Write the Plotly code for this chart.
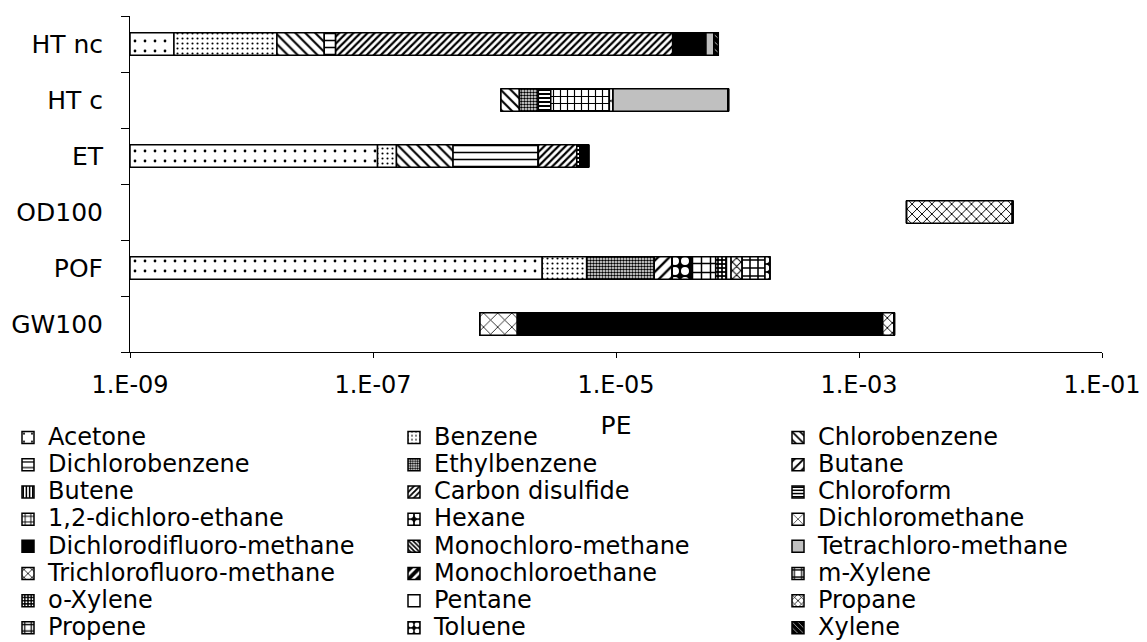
import plotly.graph_objects as go

# ---------------- data ----------------
categories = ["HT nc", "HT c", "ET", "OD100", "POF", "GW100"]
# invisible leading part of each floating stack (0 = stack starts at the axis minimum)
offset = [0, 1.13e-6, 0, 2.47e-3, 0, 7.6e-7]

acetone = [2.3e-9, 0, 1.09e-7, 0, 2.47e-6, 0]
benzene = [1.39e-8, 0, 4.7e-8, 0, 3.27e-6, 0]
chlorobenzene = [2.35e-8, 4.75e-7, 3.0e-7, 0, 0, 0]
dichlorobenzene = [9.6e-9, 0, 1.84e-6, 0, 0, 0]
ethylbenzene = [0, 6.9e-7, 0, 0, 1.49e-5, 0]
butane = [0, 0, 0, 0, 8.4e-6, 0]
butene = [0, 0, 0, 0, 0, 0]
carbon_disulfide = [2.925e-5, 0, 2.46e-6, 0, 0, 0]
chloroform = [0, 6.1e-7, 3.1e-7, 0, 0, 0]
dichloroethane_12 = [0, 5.91e-6, 0, 0, 0, 0]
hexane = [0, 0, 0, 0, 1.34e-5, 0]
dichloromethane = [0, 6.4e-7, 0, 0, 0, 7.8e-7]
dichlorodifluoromethane = [2.57e-5, 0, 8.6e-7, 0, 0, 1.565e-3]
monochloromethane = [0, 0, 0, 0, 0, 0]
tetrachloromethane = [9.1e-6, 7.46e-5, 0, 0, 0, 0]
trichlorofluoromethane = [0, 0, 0, 1.59e-2, 0, 3.86e-4]
monochloroethane = [0, 0, 0, 0, 0, 0]
m_xylene = [0, 0, 0, 0, 2.37e-5, 0]
o_xylene = [0, 0, 0, 0, 1.5e-5, 0]
pentane = [0, 0, 0, 0, 7.4e-6, 0]
propane = [0, 0, 0, 0, 2.05e-5, 0]
propene = [0, 0, 0, 0, 5.94e-5, 0]
toluene = [0, 0, 0, 0, 1.68e-5, 0]
xylene = [5.4e-6, 0, 0, 0, 0, 0]

series_names = ["Acetone", "Benzene", "Chlorobenzene", "Dichlorobenzene", "Ethylbenzene",
                "Butane", "Butene", "Carbon disulfide", "Chloroform", "1,2-dichloro-ethane",
                "Hexane", "Dichloromethane", "Dichlorodifluoro-methane", "Monochloro-methane",
                "Tetrachloro-methane", "Trichlorofluoro-methane", "Monochloroethane", "m-Xylene",
                "o-Xylene", "Pentane", "Propane", "Propene", "Toluene", "Xylene"]
series_values = [acetone, benzene, chlorobenzene, dichlorobenzene, ethylbenzene,
                 butane, butene, carbon_disulfide, chloroform, dichloroethane_12,
                 hexane, dichloromethane, dichlorodifluoromethane, monochloromethane,
                 tetrachloromethane, trichlorofluoromethane, monochloroethane, m_xylene,
                 o_xylene, pentane, propane, propene, toluene, xylene]

x_tick_values = [1e-9, 1e-7, 1e-5, 1e-3, 1e-1]
x_tick_labels = ["1.E-09", "1.E-07", "1.E-05", "1.E-03", "1.E-01"]

# ---------------- styles (shape, size, solidity, fg, bg) ----------------
K, W = "black", "white"
styles = [
    (".", 10, 0.06, K, W),       # Acetone
    (".", 5, 0.14, K, W),        # Benzene
    ("\\", 7, 0.3, K, W),        # Chlorobenzene
    ("-", 7, 0.22, K, W),        # Dichlorobenzene
    (".", 3, 0.55, K, W),        # Ethylbenzene
    ("/", 8, 0.3, K, W),         # Butane
    ("|", 4, 0.5, K, W),         # Butene
    ("/", 5, 0.45, K, W),        # Carbon disulfide
    ("-", 4, 0.5, K, W),         # Chloroform
    ("+", 7, 0.3, K, W),         # 1,2-dichloro-ethane
    (".", 10, 0.5, W, K),        # Hexane
    ("x", 10, 0.15, K, W),       # Dichloromethane
    ("", 8, 0.3, K, K),          # Dichlorodifluoro-methane
    ("\\", 4, 0.5, K, W),        # Monochloro-methane
    ("", 8, 0.3, K, "#C0C0C0"),  # Tetrachloro-methane
    ("x", 7, 0.25, K, W),        # Trichlorofluoro-methane
    ("/", 8, 0.6, K, W),         # Monochloroethane
    ("+", 9, 0.3, K, W),         # m-Xylene
    (".", 4, 0.35, W, K),        # o-Xylene
    ("", 8, 0.3, K, W),          # Pentane
    ("x", 6, 0.3, K, W),         # Propane
    ("+", 8, 0.35, K, W),        # Propene
    (".", 8, 0.5, W, K),         # Toluene
    ("\\", 5, 0.15, W, K),       # Xylene
]

XMIN = 1e-9
FONT = "DejaVu Sans"
FIG_W, FIG_H = 1139, 634   # page has an 8 px body margin

fig = go.Figure()
cum = [0.0] * len(categories)
legends = ["legend", "legend2", "legend3"]
for i, (name, vals) in enumerate(zip(series_names, series_values)):
    bases, lengths = [], []
    for j, v in enumerate(vals):
        start = offset[j] + cum[j]
        base = start if start > 0 else XMIN
        cum[j] += v
        end = offset[j] + cum[j]
        bases.append(base)
        lengths.append(end - base if v > 0 else 0)
    shape, size, sol, fg, bg = styles[i]
    fig.add_trace(go.Bar(
        y=categories, x=lengths, base=bases, orientation="h", width=0.4,
        name=f'<span style="font-size:24px">{name}</span>',
        legend=legends[i % 3],
        customdata=vals,
        hovertemplate=name + ": %{customdata:.2e}<extra></extra>",
        marker=dict(color=bg, line=dict(color="black", width=1.5),
                    pattern=dict(shape=shape, size=size, solidity=sol,
                                 fgcolor=fg, bgcolor=bg, fillmode="replace")),
    ))

legend_common = dict(xref="container", yref="container", y=1 - 411 / FIG_H,
                     xanchor="left", yanchor="top", orientation="v",
                     traceorder="normal", bgcolor="rgba(0,0,0,0)", itemwidth=30,
                     font=dict(family=FONT, size=18.6, color="black"))

fig.update_layout(
    width=FIG_W, height=FIG_H,
    margin=dict(l=122, r=45, t=8, b=290, autoexpand=False),
    barmode="overlay",
    plot_bgcolor="white", paper_bgcolor="white",
    font=dict(family=FONT, size=24, color="black"),
    legend=dict(x=0.0, **legend_common),
    legend2=dict(x=386 / FIG_W, **legend_common),
    legend3=dict(x=770 / FIG_W, **legend_common),
    xaxis=dict(type="log", range=[-9, -1], tickvals=x_tick_values, ticktext=x_tick_labels,
               showgrid=False, zeroline=False, showline=True, linecolor="black", linewidth=1,
               ticks="outside", ticklen=5, tickcolor="black", ticklabelstandoff=6,
               tickfont=dict(family=FONT, size=24, color="black"),
               title=dict(text="PE", font=dict(family=FONT, size=25, color="black"), standoff=18)),
    yaxis=dict(type="category", categoryorder="array", categoryarray=categories[::-1],
               showgrid=False, zeroline=False, showline=True, linecolor="black", linewidth=1,
               ticks="outside", tickson="boundaries", ticklen=8, tickcolor="black",
               ticklabelstandoff=21,
               tickfont=dict(family=FONT, size=25, color="black")),
)

fig.write_html("out.html")
